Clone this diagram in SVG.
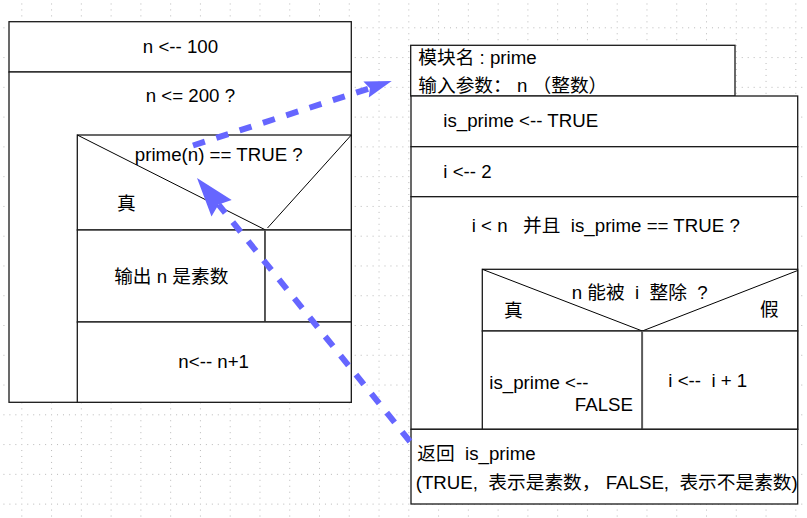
<svg xmlns="http://www.w3.org/2000/svg" width="807" height="518" viewBox="0 0 807 518">
<defs>
<pattern id="grid" patternUnits="userSpaceOnUse" x="21.3" y="27.3" width="29.77" height="29.77">
<g fill="#b8b8b8">
<rect x="0" y="0" width="1" height="1"/><rect x="5.95" y="0" width="1" height="1"/><rect x="11.9" y="0" width="1" height="1"/><rect x="17.86" y="0" width="1" height="1"/><rect x="23.81" y="0" width="1" height="1"/>
<rect x="0" y="5.95" width="1" height="1"/><rect x="0" y="11.9" width="1" height="1"/><rect x="0" y="17.86" width="1" height="1"/><rect x="0" y="23.81" width="1" height="1"/>
</g>
</pattern>
<style>
.box{fill:#fff;stroke:#1a1a1a;stroke-width:1.3}
.ln{fill:none;stroke:#1a1a1a;stroke-width:1.3}
.diag{fill:none;stroke:#000;stroke-width:1}
.div{fill:none;stroke:#5a5a5a;stroke-width:1.6}
text{font-family:"Liberation Sans","Noto Sans CJK SC",sans-serif;font-size:18.7px;fill:#000;white-space:pre}
.mid{text-anchor:middle}
.end{text-anchor:end}
.flow{fill:none;stroke:#6666ff;stroke-width:6;stroke-dasharray:12.5 12}
.head{fill:#6666ff;stroke:none}
</style>
</defs>
<rect x="0" y="0" width="807" height="518" fill="#fff"/>
<rect x="0" y="0" width="807" height="518" fill="url(#grid)"/>

<!-- left program -->
<g id="assign-n">
<rect class="box" x="9" y="21.7" width="342.3" height="50.3"/>
<text class="mid" x="180.5" y="53.3">n &lt;-- 100</text>
</g>
<g id="loop-n">
<rect class="box" x="9" y="72" width="342.3" height="330.3"/>
<text class="mid" x="190.4" y="101.7">n &lt;= 200 ?</text>
</g>
<g id="if-prime">
<rect class="box" x="77.3" y="135" width="274" height="95"/>
<line class="diag" x1="77.3" y1="135" x2="265" y2="229.7"/>
<line class="diag" x1="351.3" y1="135" x2="267.5" y2="228"/>
<text class="mid" x="218.8" y="161">prime(n) == TRUE ?</text>
<text class="mid" x="126.3" y="209.5">真</text>
</g>
<g id="output-prime">
<rect class="box" x="77.3" y="230" width="187.7" height="92"/>
<text class="mid" x="171.3" y="283">输出 n 是素数</text>
</g>
<g id="else-empty">
<rect class="box" x="265" y="230" width="86.3" height="92"/>
<line class="div" x1="265" y1="230" x2="265" y2="322"/>
</g>
<g id="inc-n">
<rect class="box" x="77.3" y="322" width="274" height="80.3"/>
<text class="mid" x="213.7" y="368.3">n&lt;-- n+1</text>
</g>

<!-- right module -->
<g id="module-header">
<rect class="box" x="410.7" y="45.3" width="324.3" height="50.7"/>
<text x="418.3" y="64">模块名 : prime</text>
<text x="418.3" y="91.5">输入参数： n （整数）</text>
</g>
<g id="init-is-prime">
<rect class="box" x="411" y="96" width="386.7" height="50.7"/>
<text x="443.3" y="126.7">is_prime &lt;-- TRUE</text>
</g>
<g id="init-i">
<rect class="box" x="411" y="146.7" width="386.7" height="50"/>
<text x="443.3" y="177.7">i &lt;-- 2</text>
</g>
<g id="loop-i">
<rect class="box" x="411" y="196.7" width="386.7" height="232.6"/>
<text x="471.7" y="231.7">i &lt; n   并且  is_prime == TRUE ?</text>
</g>
<g id="if-divisible">
<rect class="box" x="482.3" y="269.3" width="315.4" height="61.7"/>
<line class="diag" x1="482.3" y1="269.3" x2="642.3" y2="331"/>
<line class="diag" x1="797.7" y1="270.5" x2="642.3" y2="331"/>
<text x="571.7" y="299.3">n 能被  i  整除  ?</text>
<text x="504" y="317">真</text>
<text x="760" y="316">假</text>
</g>
<g id="set-false">
<rect class="box" x="482.3" y="331" width="160" height="98.3"/>
<text x="489.3" y="389.3">is_prime &lt;--</text>
<text class="end" x="633" y="410.7">FALSE</text>
</g>
<g id="inc-i">
<rect class="box" x="642.3" y="331" width="155.4" height="98.3"/>
<line class="div" x1="642.3" y1="331" x2="642.3" y2="429.3"/>
<text x="668.3" y="386.7">i &lt;--  i + 1</text>
</g>
<g id="return">
<rect class="box" x="411" y="429.3" width="386.7" height="74.7"/>
<text x="417.3" y="460">返回  is_prime</text>
<text x="415.7" y="489.3">(TRUE,  表示是素数， FALSE,  表示不是素数)</text>
</g>

<!-- connectors -->
<g id="connectors">
<path class="flow" d="M193,145.5 L369.9,88.2"/>
<polygon class="head" points="391.7,81 368.8,97.6 369.9,88.2 363.4,81.4"/>
<path class="flow" d="M410,441.5 L218.6,204.6"/>
<polygon class="head" points="197,178 231.7,200.1 218.6,204.6 211.5,216.5"/>
</g>
</svg>
